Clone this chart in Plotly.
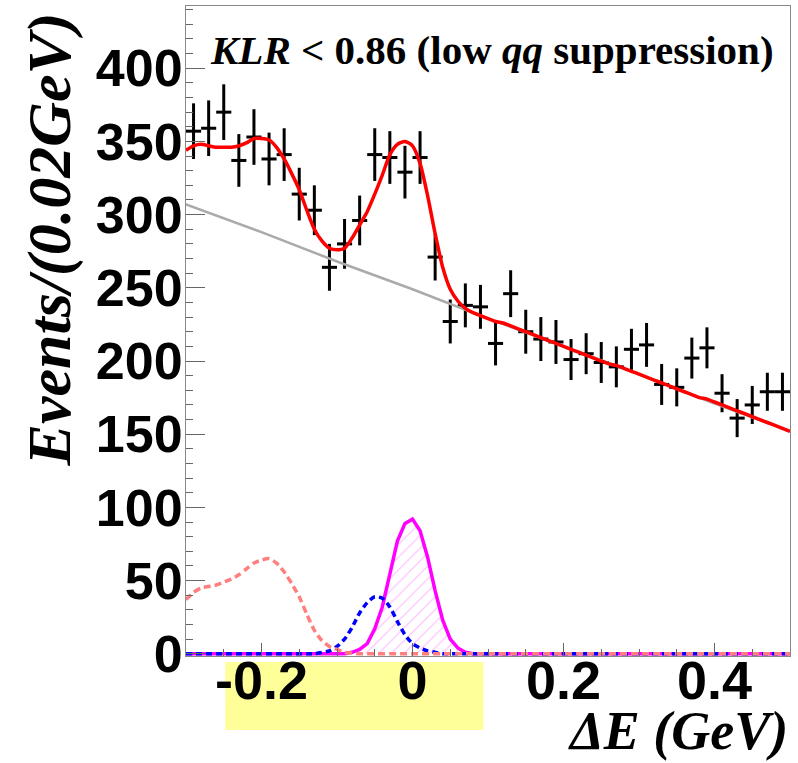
import plotly.graph_objects as go

# ---- data points (bin centers, 0.02 GeV bins) ----
bin_centers = [round(-0.29 + 0.02 * i, 2) for i in range(40)]
counts = [357, 359, 370, 337, 353, 338, 341, 314, 303, 264,
          280, 296, 341, 339, 329, 339, 271, 227, 238, 237,
          212, 246, 220, 215, 213, 201, 205, 199, 196, 208,
          211, 184, 182, 202, 209, 178, 161, 170, 179, 179]
errors = [19, 19, 19, 18, 19, 18, 18, 18, 17, 16,
          17, 17, 18, 18, 18, 18, 16, 15, 15, 15,
          15, 16, 15, 15, 15, 14, 14, 14, 14, 14,
          15, 14, 13, 14, 14, 13, 13, 13, 13, 13]
half_bin = [0.01] * 40

# ---- fit curves sampled every 0.01 GeV ----
curve_x = [round(-0.30 + 0.01 * i, 2) for i in range(81)]
total_fit = [344, 347, 348, 347, 346, 346, 346, 347, 349, 352,
             352, 351, 346, 338, 328, 317, 303, 290, 282, 277,
             276, 277, 284, 293, 302, 314, 327, 341, 348, 350,
             347, 335, 313, 287, 264, 249, 241, 236, 233, 231,
             229, 227, 226, 224, 222, 220, 218, 216, 214, 212,
             210, 208, 206, 204, 202, 200, 198, 197, 195, 193,
             191, 189, 187, 185, 183, 181, 179, 177, 175, 174,
             172, 170, 168, 166, 164, 162, 160, 158, 156, 154, 152]
feed_across = [37, 42, 45, 46, 47, 49, 51, 54, 58, 62,
               64, 65, 62, 56, 48, 39, 27, 16, 9, 5,
               3, 1, 0.5] + [0] * 58
cross_feed = [0] * 17 + [0, 1, 2, 5, 10, 18, 28, 35, 39, 38,
                         32, 22, 13, 7, 4, 2, 1, 0] + [0] * 46
signal = [0] * 20 + [0, 0, 1, 3, 7, 17, 32, 55, 77, 89,
                     92, 84, 66, 43, 23, 10, 4, 1, 0] + [0] * 42

bkg_x = [-0.3, -0.2, -0.1, 0.0, 0.1, 0.2, 0.3, 0.4, 0.5]
bkg_y = [307, 288, 268, 249, 229, 210, 191, 171, 152]

x_tickvals = [-0.2, 0, 0.2, 0.4]
x_ticktext = ["-0.2", "0", "0.2", "0.4"]
y_tickvals = [0, 50, 100, 150, 200, 250, 300, 350, 400]

fig = go.Figure()

fig.add_trace(go.Scatter(
    x=bin_centers, y=counts, mode="markers",
    marker=dict(size=3, color="black"),
    error_y=dict(type="data", array=errors, color="black", thickness=3, width=0),
    error_x=dict(type="data", array=half_bin, color="black", thickness=3, width=0),
    hoverinfo="skip"))

fig.add_trace(go.Scatter(x=bkg_x, y=bkg_y, mode="lines",
                         line=dict(color="#AAAAAA", width=2.5)))
fig.add_trace(go.Scatter(x=curve_x, y=total_fit, mode="lines",
                         line=dict(color="#FF0000", width=3.5, shape="spline", smoothing=0.6)))
fig.add_trace(go.Scatter(x=curve_x, y=signal, mode="lines",
                         line=dict(color="#FF00FF", width=3.5),
                         fill="tozeroy", fillcolor="rgba(0,0,0,0)",
                         fillpattern=dict(shape="/", fgcolor="rgba(255,0,255,0.55)",
                                          bgcolor="rgba(0,0,0,0)", size=9, solidity=0.12)))
fig.add_trace(go.Scatter(x=curve_x, y=cross_feed, mode="lines",
                         line=dict(color="#0000FF", width=3.5, dash="6px,4px", shape="spline", smoothing=0.6)))
fig.add_trace(go.Scatter(x=curve_x, y=feed_across, mode="lines",
                         line=dict(color="#FF7F7F", width=3.5, dash="7px,4px", shape="spline", smoothing=0.6)))

# yellow highlight behind the x tick labels
fig.add_shape(type="rect", xref="x", yref="paper",
              x0=-0.248, x1=0.094, y0=-0.114, y1=-0.0092,
              fillcolor="#FFFF99", line=dict(width=0), layer="below")

fig.add_annotation(xref="paper", yref="paper", x=0.036, y=0.932,
                   xanchor="left", yanchor="middle", showarrow=False,
                   text="<b><i>KLR</i> &lt; 0.86 (low <i>qq</i> suppression)</b>",
                   font=dict(family="Liberation Serif", size=41, color="black"))
fig.add_annotation(xref="paper", yref="paper", x=1.0, y=-0.1646,
                   xanchor="right", yanchor="bottom", showarrow=False,
                   text="<b><i>ΔE (GeV)</i></b>",
                   font=dict(family="Liberation Serif", size=54, color="black"))
fig.add_annotation(xref="paper", yref="paper", x=-0.226, y=0.994,
                   xanchor="center", yanchor="top", showarrow=False, textangle=-90,
                   text="<b><i>Events/(0.02GeV)</i></b>",
                   font=dict(family="Liberation Serif", size=62, color="black"))

xtickfont = dict(family="Liberation Sans", size=54, color="black", weight="bold")
ytickfont = dict(family="Liberation Sans", size=52, color="black", weight="bold")
fig.update_xaxes(range=[-0.3, 0.5], showgrid=False, zeroline=False,
                 tickvals=x_tickvals, ticktext=x_ticktext,
                 ticks="inside", ticklen=13, tickwidth=1, tickcolor="#666666",
                 minor=dict(ticks="inside", ticklen=7, tickcolor="#666666", dtick=0.05, tick0=0, showgrid=False),
                 showline=True, linecolor="#888888", linewidth=1, mirror=True,
                 tickfont=xtickfont, ticklabelstandoff=-23)
fig.update_yaxes(range=[-1.5, 442.5], showgrid=False, zeroline=False,
                 tickvals=y_tickvals,
                 ticks="inside", ticklen=19, tickwidth=1, tickcolor="#666666",
                 minor=dict(ticks="inside", ticklen=7, tickcolor="#666666", dtick=10, tick0=0, showgrid=False),
                 showline=True, linecolor="#888888", linewidth=1, mirror=True,
                 tickfont=ytickfont, ticklabelstandoff=-8)

fig.update_layout(width=798, height=763, margin=dict(l=186, r=8, t=6, b=107),
                  plot_bgcolor="white", paper_bgcolor="white", showlegend=False)

fig.write_html("out.html")
